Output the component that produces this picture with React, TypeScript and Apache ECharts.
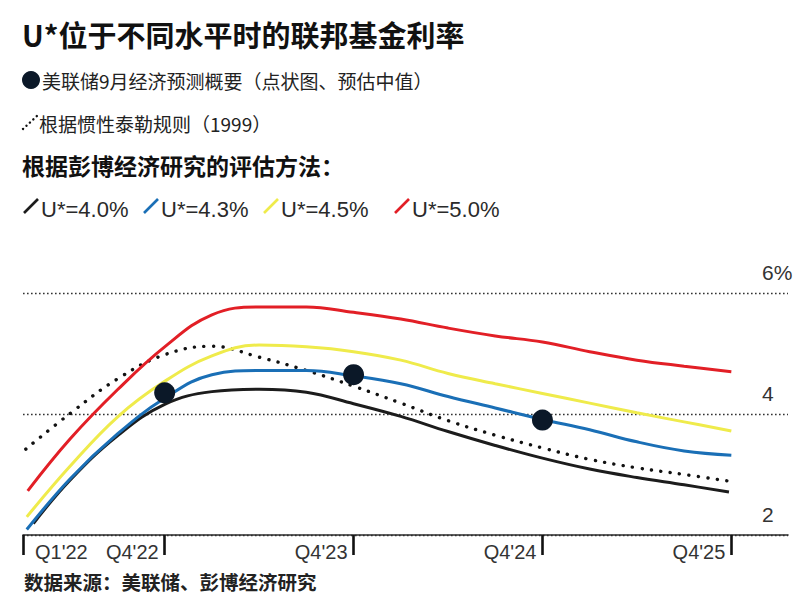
import { useEffect, useRef } from 'react';
import * as echarts from 'echarts';

// x values are quarter indexes: 0 = Q1'22, 3 = Q4'22, 7 = Q4'23, 11 = Q4'24, 15 = Q4'25
const tickQuarters = [0, 3, 7, 11, 15];
const tickLabels = ["Q1'22", "Q4'22", "Q4'23", "Q4'24", "Q4'25"];

const seriesNames = ['U*=4.0%', 'U*=4.3%', 'U*=4.5%', 'U*=5.0%'];
const seriesColors = ['#1c1c1c', '#1a6fb6', '#efeb4b', '#e21f26'];

const midQuarters = [1, 2, 3, 4, 5, 6, 7, 8, 9, 10, 11, 12, 13, 14];

const u40X = [0.22, ...midQuarters, 14.95];
const u40Y = [2.19, 2.91, 3.64, 4.16, 4.37, 4.41, 4.36, 4.17, 3.96, 3.71, 3.48, 3.27, 3.09, 2.95, 2.83, 2.71];

const u43X = [0.08, ...midQuarters, 15];
const u43Y = [2.09, 2.93, 3.67, 4.26, 4.65, 4.72, 4.72, 4.63, 4.50, 4.29, 4.10, 3.91, 3.74, 3.54, 3.39, 3.32];

const u45X = [0.08, ...midQuarters, 15];
const u45Y = [2.30, 3.14, 3.95, 4.54, 4.96, 5.14, 5.11, 5.03, 4.89, 4.67, 4.50, 4.34, 4.18, 4.02, 3.87, 3.72];

const u50X = [0.1, ...midQuarters, 15];
const u50Y = [2.73, 3.59, 4.40, 5.11, 5.64, 5.77, 5.77, 5.68, 5.57, 5.42, 5.29, 5.19, 5.03, 4.89, 4.79, 4.70];

const taylorX = [0.06, ...midQuarters, 14.95];
const taylorY = [3.42, 4.01, 4.58, 4.98, 5.12, 4.94, 4.72, 4.46, 4.18, 3.89, 3.65, 3.44, 3.25, 3.11, 3.00, 2.89];

const dotX = [3, 7, 11];
const dotY = [4.35, 4.65, 3.9];

const titleText = 'U*位于不同水平时的联邦基金利率';
const dotLegendText = '美联储9月经济预测概要（点状图、预估中值）';
const taylorLegendText = '根据惯性泰勒规则（1999）';
const subheadText = '根据彭博经济研究的评估方法：';
const sourceText = '数据来源：美联储、彭博经济研究';

const CJK = '"Noto Sans CJK SC", "Noto Sans", sans-serif';
const LATIN = '"Liberation Sans", Arial, sans-serif';
const DOT_COLOR = '#0b1828';

const pairs = (xs: number[], ys: number[]) => xs.map((x, i) => [x, ys[i]]);

export default function App() {
  const chartRef = useRef<HTMLDivElement>(null);

  useEffect(() => {
    if (!chartRef.current) return;
    const chart = echarts.init(chartRef.current, null, { renderer: 'svg' });

    const lineData = [pairs(u40X, u40Y), pairs(u43X, u43Y), pairs(u45X, u45Y), pairs(u50X, u50Y)];
    const legendX = [23, 143, 263, 394];

    const axisLabelStyle = {
      color: '#333',
      fontSize: 20,
      fontFamily: LATIN
    };

    const option: echarts.EChartsOption = {
      animation: false,
      grid: { left: 23, right: 8, top: 293, bottom: 60 },
      xAxis: [
        {
          type: 'value',
          min: 0,
          max: 16.2,
          position: 'bottom',
          axisLine: { show: true, onZero: false, lineStyle: { color: '#2a2a2a', width: 1.6 } },
          axisTick: {
            show: true,
            customValues: tickQuarters,
            length: 20,
            lineStyle: { color: '#111', width: 2.6 }
          },
          axisLabel: {
            ...axisLabelStyle,
            customValues: tickQuarters.slice(1),
            formatter: (v: number) => tickLabels[tickQuarters.indexOf(v)] ?? '',
            align: 'right',
            padding: [0, 6, 0, 0],
            margin: 7
          },
          splitLine: { show: false }
        },
        {
          type: 'value',
          min: 0,
          max: 16.2,
          position: 'bottom',
          axisLine: { show: false },
          axisTick: { show: false },
          splitLine: { show: false },
          axisLabel: {
            ...axisLabelStyle,
            customValues: [tickQuarters[0]],
            formatter: () => tickLabels[0],
            align: 'left',
            padding: [0, 0, 0, 12],
            margin: 7
          }
        }
      ],
      yAxis: {
        type: 'value',
        min: 2,
        max: 6,
        interval: 2,
        position: 'right',
        axisLine: { show: false },
        axisTick: { show: false },
        splitLine: {
          show: true,
          lineStyle: { color: '#333', type: [1.6, 2.4], width: 1.3 }
        },
        axisLabel: {
          ...axisLabelStyle,
          fontSize: 21,
          inside: true,
          align: 'left',
          margin: 26,
          verticalAlign: 'bottom',
          padding: [0, 0, 10, 0],
          formatter: (v: number) => (v === 6 ? '6%' : String(v))
        }
      },
      series: [
        {
          name: '根据惯性泰勒规则（1999）',
          type: 'line',
          data: pairs(taylorX, taylorY),
          smooth: 0.4,
          showSymbol: false,
          lineStyle: { color: '#111', width: 3.4, type: [0.1, 9.4], cap: 'round' },
          z: 2
        },
        ...lineData.map((d, i) => ({
          name: seriesNames[i],
          type: 'line' as const,
          data: d,
          smooth: 0.4,
          showSymbol: false,
          lineStyle: { color: seriesColors[i], width: 3 },
          z: 3
        })),
        {
          name: '美联储9月经济预测概要',
          type: 'scatter',
          data: pairs(dotX, dotY),
          symbolSize: 21,
          itemStyle: { color: DOT_COLOR, opacity: 1 },
          z: 5
        }
      ],
      graphic: [
        {
          type: 'text',
          x: 22,
          y: 34,
          style: { text: titleText, fill: '#111', fontSize: 29, fontWeight: 'bold', fontFamily: CJK, verticalAlign: 'middle' }
        },
        { type: 'circle', shape: { cx: 31, cy: 80, r: 9 }, style: { fill: DOT_COLOR } },
        {
          type: 'text',
          x: 42,
          y: 80,
          style: { text: dotLegendText, fill: '#222', fontSize: 19, fontFamily: CJK, verticalAlign: 'middle' }
        },
        {
          type: 'line',
          shape: { x1: 23, y1: 129, x2: 38, y2: 115 },
          style: { stroke: '#111', lineWidth: 2.4, lineDash: [0.1, 4.6], lineCap: 'round' }
        },
        {
          type: 'text',
          x: 39,
          y: 123,
          style: { text: taylorLegendText, fill: '#222', fontSize: 19, fontFamily: CJK, verticalAlign: 'middle' }
        },
        {
          type: 'text',
          x: 22,
          y: 165,
          style: { text: subheadText, fill: '#111', fontSize: 23, fontWeight: 'bold', fontFamily: CJK, verticalAlign: 'middle' }
        },
        ...seriesNames.flatMap((name, i) => [
          {
            type: 'line' as const,
            shape: { x1: legendX[i] + 1, y1: 213, x2: legendX[i] + 15, y2: 199 },
            style: { stroke: seriesColors[i], lineWidth: 2.6 }
          },
          {
            type: 'text' as const,
            x: legendX[i] + 18,
            y: 209,
            style: { text: name, fill: '#2a2a2a', fontSize: 22, fontFamily: LATIN, verticalAlign: 'middle' }
          }
        ]),
        {
          type: 'text',
          x: 24,
          y: 581,
          style: { text: sourceText, fill: '#222', fontSize: 19.5, fontWeight: 'bold', fontFamily: CJK, verticalAlign: 'middle' }
        }
      ]
    };

    chart.setOption(option);

    return () => {
      chart.dispose();
    };
  }, []);

  return (
    <div
      ref={chartRef}
      style={{ position: 'fixed', left: 0, top: 0, width: 796, height: 595, background: '#fff' }}
    />
  );
}
